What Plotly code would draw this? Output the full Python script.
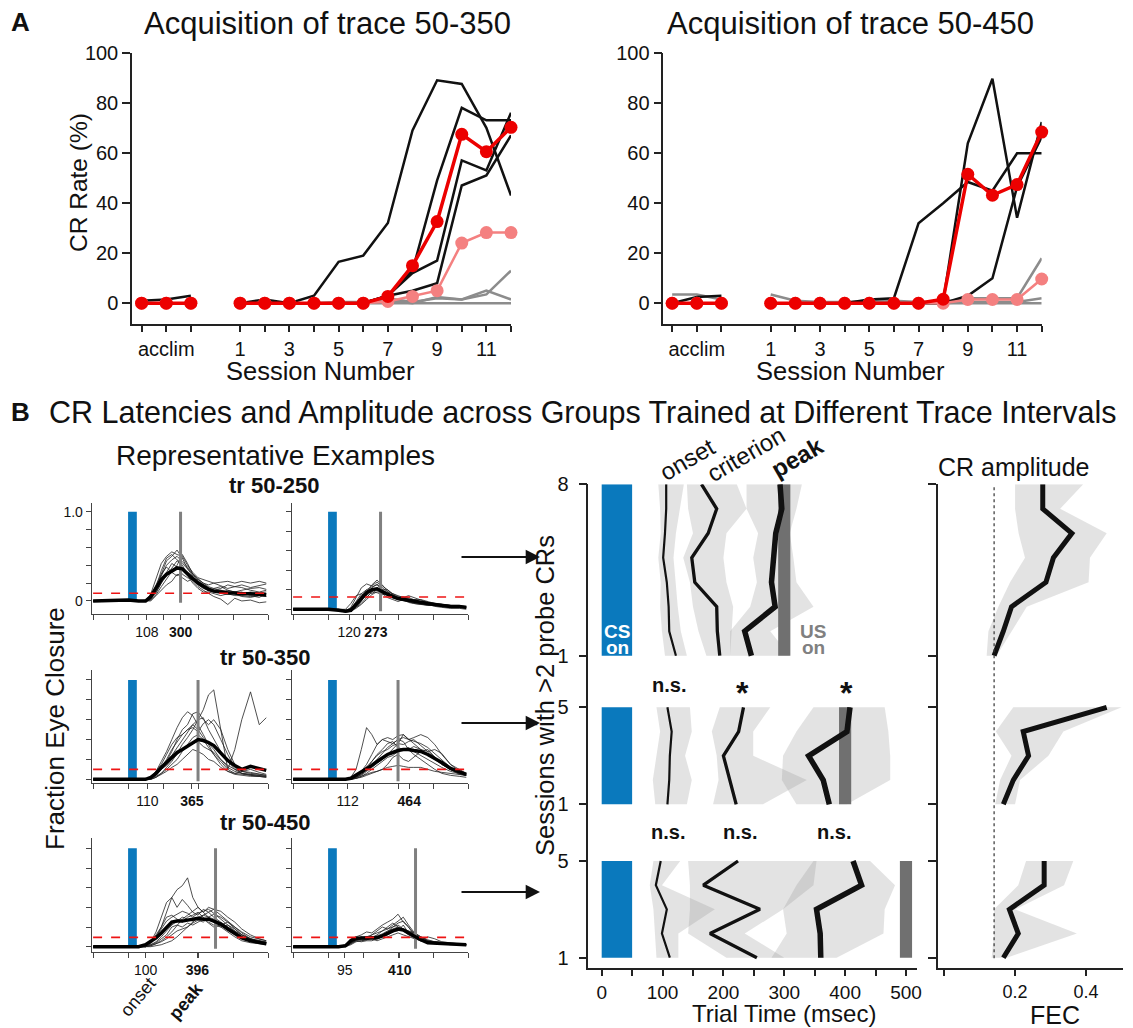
import plotly.graph_objects as go

# ---------------- page geometry helpers (page body margin removed by post_script) ----------------
OFF = 0
W, H = 1133, 1028


def PX(x):
    return (x - OFF) / W


def PY(y):
    return 1 - (y - OFF) / H


FONT = "Liberation Sans, Arial, Helvetica, sans-serif"

# ---------------- Panel A data ----------------
acclim_x = [-3, -2, -1]
session_x = list(range(1, 13))
session_ticks = [-3, -2, -1] + session_x
session_ticktext = ["", "acclim", "", "1", "", "3", "", "5", "", "7", "", "9", "", "11", ""]

# trace 50-350
a350_gray_acclim = [[0, 0, 0], [0, 0, 0], [0, 0, 0]]
a350_gray = [
    [0, 0, 0, 0, 0.5, 0.5, 2, 0.5, 2, 1.5, 3.5, 13],
    [0, 0, 0, 0, 0, 0.5, 1, 0, 2.5, 1.5, 5, 1.5],
    [0, 0, 0, 0, 0, 0, 0, 0, 0, 0, 0, 0],
]
a350_black_acclim = [[1, 1.5, 3], [0, 0, 0], [0, 0, 0], [0, 0, 0]]
a350_black = [
    [0, 1.5, 0, 3, 16.5, 19, 32, 69, 89, 87.5, 70, 43],
    [0, 0, 0, 0, 0, 0, 3, 13, 49, 78, 73, 73],
    [0, 0, 0, 0, 0, 0, 3, 12, 17, 57, 53, 76],
    [0, 0, 0, 0, 0, 0, 3, 5, 8, 47, 51, 67],
]
a350_pink_acclim = [0, 0, 0]
a350_pink = [0, 0, 0, 0, 0, 0, 0.7, 2.7, 5, 24, 28.2, 28.2]
a350_red_acclim = [0, 0, 0]
a350_red = [0, 0, 0, 0, 0, 0, 2.7, 15, 32.6, 67.4, 60.5, 70.2]

# trace 50-450
a450_gray_acclim = [[3.5, 3.5, 1.5], [0, 0, 0], [0, 0, 0]]
a450_gray = [
    [3.5, 1, 0.5, 0.5, 1, 1, 0.5, 0.5, 2, 2, 2, 18],
    [0, 0, 0, 0, 0, 0, 0, 0, 0.5, 0.5, 0.5, 2],
    [0, 0, 0, 0, 0, 0, 0, 0, 0, 0, 0, 0],
]
a450_black_acclim = [[0, 2.5, 3], [0, 0, 0], [0, 0, 0]]
a450_black = [
    [0, 0, 0, 0, 1.5, 2, 32, 40, 48.5, 45, 60, 60],
    [0, 0, 0, 0, 0, 0, 0, 0.7, 64, 89.8, 34.2, 72.5],
    [0, 0, 0, 0, 0, 0, 0, 0, 3, 10, 46.5, 66.5],
]
a450_pink_acclim = [0, 0, 0]
a450_pink = [0, 0, 0, 0, 0, 0, 0, 0, 1.5, 1.5, 1.5, 9.7]
a450_red_acclim = [0, 0, 0]
a450_red = [0, 0, 0, 0, 0, 0, 0, 1.6, 51.6, 43.2, 47.5, 68.5]

# ---------------- Panel B representative examples data ----------------
trace_t = [-200, 0, 60, 100, 130, 160, 190, 220, 250, 280, 310, 340, 370, 400, 430, 460, 490, 530, 570, 610, 650, 700, 750, 790]
cs_window = [0, 50]
fec_ticks = [0, 0.2, 0.4, 0.6, 0.8, 1.0]

ex250a_mean = [0, 0.01, 0, 0, 0.05, 0.15, 0.24, 0.3, 0.34, 0.37, 0.36, 0.3, 0.25, 0.2, 0.16, 0.13, 0.11, 0.1, 0.09, 0.09, 0.08, 0.08, 0.07, 0.07]
ex250a_trials = [
    [0, 0, 0, 0, 0.08, 0.25, 0.42, 0.5, 0.55, 0.52, 0.5, 0.4, 0.32, 0.26, 0.24, 0.22, 0.2, 0.21, 0.22, 0.2, 0.22, 0.2, 0.22, 0.2],
    [0, 0, 0, 0, 0.02, 0.12, 0.3, 0.45, 0.5, 0.57, 0.48, 0.36, 0.28, 0.2, 0.15, 0.12, 0.1, 0.12, 0.1, 0.08, 0.05, 0.04, 0.06, 0.05],
    [0, 0, 0, 0, 0.03, 0.1, 0.2, 0.28, 0.36, 0.45, 0.4, 0.3, 0.22, 0.16, 0.12, 0.08, 0.05, 0.02, -0.04, 0.03, 0, 0.01, -0.02, -0.01],
    [0, 0, 0, 0.01, 0.06, 0.18, 0.3, 0.38, 0.32, 0.28, 0.34, 0.28, 0.2, 0.14, 0.1, 0.1, 0.08, 0.06, 0.08, 0.06, 0.06, 0.05, 0.06, 0.05],
    [0, 0, 0, 0, 0, 0.06, 0.12, 0.18, 0.22, 0.3, 0.26, 0.22, 0.25, 0.24, 0.2, 0.16, 0.14, 0.16, 0.12, 0.1, 0.12, 0.14, 0.15, 0.13],
    [0, 0, 0, 0, 0.04, 0.16, 0.34, 0.48, 0.52, 0.46, 0.42, 0.36, 0.3, 0.22, 0.18, 0.15, 0.12, 0.14, 0.18, 0.16, 0.15, 0.12, 0.1, 0.12],
    [0, 0, 0, 0, 0.03, 0.14, 0.28, 0.4, 0.46, 0.5, 0.44, 0.38, 0.3, 0.25, 0.2, 0.18, 0.2, 0.17, 0.14, 0.16, 0.18, 0.15, 0.17, 0.19],
    [0, 0, 0, 0, 0.01, 0.07, 0.16, 0.25, 0.33, 0.4, 0.52, 0.42, 0.3, 0.24, 0.18, 0.14, 0.12, 0.1, 0.12, 0.1, 0.08, 0.1, 0.09, 0.1],
    [0, 0, 0, 0, 0.02, 0.09, 0.2, 0.32, 0.42, 0.38, 0.3, 0.26, 0.24, 0.18, 0.14, 0.12, 0.14, 0.12, 0.1, 0.08, 0.1, 0.06, 0.04, 0.08],
]
ex250b_mean = [0, 0, -0.01, -0.02, -0.01, 0.05, 0.12, 0.17, 0.2, 0.21, 0.18, 0.15, 0.13, 0.11, 0.1, 0.09, 0.08, 0.07, 0.06, 0.05, 0.04, 0.03, 0.03, 0.02]
ex250b_trials = [
    [0, 0, -0.01, -0.02, 0.02, 0.12, 0.22, 0.26, 0.24, 0.28, 0.22, 0.18, 0.16, 0.14, 0.12, 0.12, 0.1, 0.1, 0.08, 0.06, 0.05, 0.04, 0.03, 0.02],
    [0, 0, -0.01, -0.03, -0.02, 0.02, 0.08, 0.18, 0.25, 0.3, 0.24, 0.2, 0.16, 0.13, 0.12, 0.14, 0.12, 0.09, 0.07, 0.05, 0.04, 0.04, 0.02, 0.01],
    [0, 0, 0, -0.02, 0, 0.06, 0.14, 0.2, 0.16, 0.2, 0.16, 0.12, 0.1, 0.08, 0.1, 0.07, 0.06, 0.05, 0.05, 0.04, 0.03, 0.02, 0.02, 0.03],
    [0, 0, -0.01, -0.02, -0.01, 0.03, 0.1, 0.14, 0.22, 0.26, 0.2, 0.14, 0.12, 0.12, 0.1, 0.08, 0.08, 0.06, 0.05, 0.03, 0.02, 0.01, 0.01, 0],
    [0, 0, 0, 0, 0.06, 0.14, 0.16, 0.12, 0.18, 0.17, 0.15, 0.16, 0.14, 0.11, 0.09, 0.08, 0.07, 0.06, 0.04, 0.04, 0.03, 0.03, 0.02, 0.02],
    [0, 0, -0.01, -0.02, -0.01, 0.02, 0.06, 0.12, 0.18, 0.22, 0.2, 0.2, 0.15, 0.12, 0.1, 0.1, 0.09, 0.07, 0.06, 0.05, 0.05, 0.04, 0.03, 0.02],
    [0, 0, -0.01, -0.02, 0, 0.08, 0.16, 0.2, 0.23, 0.25, 0.2, 0.17, 0.14, 0.12, 0.13, 0.1, 0.1, 0.08, 0.07, 0.06, 0.05, 0.04, 0.04, 0.03],
    [0, 0, 0, -0.01, 0.01, 0.04, 0.1, 0.15, 0.19, 0.2, 0.25, 0.18, 0.12, 0.1, 0.09, 0.08, 0.06, 0.05, 0.04, 0.04, 0.03, 0.02, 0.02, 0.01],
    [0, 0, -0.01, -0.02, -0.02, 0.01, 0.05, 0.1, 0.15, 0.18, 0.17, 0.14, 0.15, 0.11, 0.09, 0.11, 0.08, 0.06, 0.05, 0.05, 0.04, 0.03, 0.02, 0.02],
]
ex350a_mean = [0, 0, 0, 0, 0.02, 0.06, 0.12, 0.17, 0.22, 0.27, 0.3, 0.33, 0.37, 0.4, 0.39, 0.37, 0.34, 0.27, 0.19, 0.14, 0.1, 0.13, 0.11, 0.09]
ex350a_trials = [
    [0, 0, 0, 0, 0.02, 0.08, 0.15, 0.25, 0.35, 0.42, 0.45, 0.5, 0.55, 0.6, 0.7, 0.85, 0.9, 0.5, 0.1, 0.3, 0.6, 0.88, 0.55, 0.62],
    [0, 0, 0, 0, 0.02, 0.08, 0.18, 0.28, 0.4, 0.52, 0.62, 0.68, 0.64, 0.55, 0.45, 0.35, 0.25, 0.15, 0.08, 0.05, 0.04, 0.03, 0.03, 0.02],
    [0, 0, 0, 0, 0.01, 0.05, 0.1, 0.18, 0.28, 0.4, 0.5, 0.55, 0.66, 0.68, 0.6, 0.55, 0.6, 0.5, 0.3, 0.15, 0.08, 0.06, 0.05, 0.04],
    [0, 0, 0, 0, 0, 0.02, 0.05, 0.08, 0.12, 0.15, 0.2, 0.25, 0.3, 0.28, 0.25, 0.2, 0.18, 0.12, 0.08, 0.06, 0.05, 0.04, 0.03, 0.03],
    [0, 0, 0, 0, 0.02, 0.06, 0.12, 0.2, 0.3, 0.38, 0.45, 0.5, 0.52, 0.48, 0.56, 0.6, 0.55, 0.4, 0.25, 0.12, 0.06, 0.04, 0.03, 0.02],
    [0, 0, 0, 0, 0, 0.03, 0.06, 0.1, 0.15, 0.2, 0.28, 0.35, 0.42, 0.45, 0.4, 0.32, 0.25, 0.18, 0.1, 0.06, 0.08, 0.1, 0.07, 0.05],
    [0, 0, 0, 0, 0.01, 0.04, 0.1, 0.16, 0.24, 0.32, 0.4, 0.48, 0.55, 0.5, 0.42, 0.36, 0.3, 0.2, 0.12, 0.08, 0.06, 0.05, 0.04, 0.03],
    [0, 0, 0, 0, 0.02, 0.05, 0.1, 0.14, 0.2, 0.25, 0.3, 0.34, 0.36, 0.38, 0.33, 0.3, 0.27, 0.2, 0.14, 0.1, 0.08, 0.07, 0.05, 0.04],
    [0, 0, 0, 0, 0, 0.02, 0.06, 0.12, 0.18, 0.26, 0.35, 0.42, 0.5, 0.6, 0.62, 0.5, 0.4, 0.28, 0.18, 0.1, 0.06, 0.05, 0.04, 0.03],
]
ex350b_mean = [0, 0, 0, 0, 0.01, 0.04, 0.07, 0.1, 0.14, 0.18, 0.22, 0.25, 0.27, 0.29, 0.3, 0.3, 0.29, 0.28, 0.25, 0.21, 0.17, 0.11, 0.08, 0.05]
ex350b_trials = [
    [0, 0, 0, 0, 0.02, 0.1, 0.3, 0.52, 0.45, 0.35, 0.4, 0.38, 0.36, 0.4, 0.38, 0.3, 0.25, 0.2, 0.15, 0.1, 0.06, 0.04, 0.03, 0.02],
    [0, 0, 0, 0, 0.01, 0.03, 0.08, 0.15, 0.25, 0.35, 0.4, 0.42, 0.4, 0.44, 0.45, 0.4, 0.42, 0.45, 0.42, 0.35, 0.25, 0.15, 0.08, 0.05],
    [0, 0, 0, 0, 0, 0.02, 0.04, 0.08, 0.12, 0.16, 0.2, 0.25, 0.3, 0.36, 0.45, 0.4, 0.36, 0.3, 0.28, 0.3, 0.26, 0.15, 0.1, 0.06],
    [0, 0, 0, 0, 0, 0.01, 0.03, 0.05, 0.07, 0.08, 0.1, 0.12, 0.13, 0.14, 0.13, 0.12, 0.12, 0.12, 0.1, 0.08, 0.07, 0.06, 0.05, 0.04],
    [0, 0, 0, 0, 0.01, 0.02, 0.05, 0.1, 0.18, 0.25, 0.3, 0.36, 0.38, 0.32, 0.3, 0.3, 0.33, 0.3, 0.24, 0.2, 0.15, 0.1, 0.05, 0.04],
    [0, 0, 0, 0, 0, 0.01, 0.02, 0.04, 0.06, 0.08, 0.1, 0.15, 0.22, 0.25, 0.2, 0.18, 0.22, 0.28, 0.3, 0.22, 0.15, 0.1, 0.06, 0.04],
    [0, 0, 0, 0, 0.01, 0.02, 0.05, 0.09, 0.14, 0.2, 0.26, 0.32, 0.36, 0.4, 0.42, 0.4, 0.38, 0.36, 0.32, 0.26, 0.2, 0.12, 0.07, 0.05],
    [0, 0, 0, 0, 0, 0.01, 0.03, 0.06, 0.1, 0.14, 0.18, 0.22, 0.24, 0.28, 0.3, 0.32, 0.28, 0.24, 0.2, 0.16, 0.12, 0.08, 0.06, 0.04],
    [0, 0, 0, 0, 0.01, 0.03, 0.07, 0.12, 0.18, 0.24, 0.28, 0.3, 0.34, 0.36, 0.35, 0.38, 0.4, 0.34, 0.28, 0.22, 0.16, 0.1, 0.07, 0.05],
]
ex450a_mean = [0, 0, 0, 0.02, 0.05, 0.09, 0.14, 0.19, 0.25, 0.26, 0.26, 0.27, 0.28, 0.29, 0.28, 0.28, 0.26, 0.23, 0.18, 0.14, 0.09, 0.06, 0.04, 0.03]
ex450a_trials = [
    [0, 0, 0, 0.01, 0.05, 0.15, 0.3, 0.45, 0.5, 0.58, 0.62, 0.7, 0.5, 0.4, 0.35, 0.3, 0.25, 0.2, 0.15, 0.1, 0.06, 0.04, 0.03, 0.02],
    [0, 0, 0, 0, 0.03, 0.1, 0.2, 0.35, 0.5, 0.4, 0.48, 0.42, 0.35, 0.32, 0.38, 0.35, 0.3, 0.25, 0.2, 0.15, 0.1, 0.06, 0.04, 0.03],
    [0, 0, 0, 0, 0.01, 0.03, 0.06, 0.1, 0.15, 0.22, 0.28, 0.32, 0.36, 0.4, 0.35, 0.4, 0.38, 0.32, 0.26, 0.2, 0.14, 0.08, 0.06, 0.05],
    [0, 0, 0, 0, 0, 0.01, 0.02, 0.04, 0.06, 0.1, 0.15, 0.2, 0.25, 0.3, 0.32, 0.35, 0.38, 0.36, 0.3, 0.25, 0.18, 0.12, 0.08, 0.06],
    [0, 0, 0, 0.02, 0.06, 0.12, 0.2, 0.3, 0.32, 0.28, 0.25, 0.3, 0.32, 0.35, 0.3, 0.25, 0.22, 0.2, 0.22, 0.18, 0.12, 0.08, 0.06, 0.04],
    [0, 0, 0, 0, 0.02, 0.04, 0.08, 0.12, 0.2, 0.22, 0.2, 0.24, 0.22, 0.25, 0.28, 0.24, 0.2, 0.22, 0.25, 0.2, 0.15, 0.1, 0.08, 0.06],
    [0, 0, 0, 0.01, 0.04, 0.1, 0.18, 0.26, 0.3, 0.33, 0.36, 0.34, 0.3, 0.34, 0.36, 0.38, 0.34, 0.28, 0.22, 0.16, 0.1, 0.07, 0.05, 0.04],
    [0, 0, 0, 0, 0.02, 0.05, 0.1, 0.16, 0.22, 0.26, 0.3, 0.28, 0.26, 0.28, 0.32, 0.3, 0.28, 0.24, 0.2, 0.16, 0.12, 0.08, 0.05, 0.04],
    [0, 0, 0, 0, 0.01, 0.03, 0.05, 0.08, 0.12, 0.16, 0.18, 0.2, 0.24, 0.27, 0.25, 0.3, 0.33, 0.3, 0.25, 0.18, 0.12, 0.08, 0.05, 0.04],
]
ex450b_mean = [0, 0, 0, 0.01, 0.06, 0.085, 0.085, 0.085, 0.09, 0.09, 0.11, 0.14, 0.16, 0.18, 0.17, 0.14, 0.11, 0.07, 0.04, 0.035, 0.035, 0.03, 0.025, 0.02]
ex450b_trials = [
    [0, 0, 0, 0.02, 0.08, 0.1, 0.12, 0.15, 0.14, 0.18, 0.22, 0.25, 0.28, 0.33, 0.25, 0.2, 0.12, 0.08, 0.05, 0.04, 0.03, 0.03, 0.02, 0.02],
    [0, 0, 0, 0, 0.04, 0.07, 0.1, 0.08, 0.12, 0.16, 0.2, 0.18, 0.22, 0.26, 0.3, 0.22, 0.15, 0.1, 0.06, 0.05, 0.04, 0.03, 0.03, 0.02],
    [0, 0, 0, 0, 0.02, 0.05, 0.06, 0.07, 0.08, 0.1, 0.12, 0.15, 0.2, 0.22, 0.18, 0.16, 0.14, 0.1, 0.06, 0.04, 0.03, 0.03, 0.02, 0.02],
    [0, 0, 0, 0.01, 0.05, 0.08, 0.1, 0.1, 0.08, 0.06, 0.08, 0.1, 0.12, 0.14, 0.12, 0.1, 0.08, 0.06, 0.1, 0.08, 0.05, 0.04, 0.03, 0.02],
    [0, 0, 0, 0, 0.03, 0.06, 0.06, 0.07, 0.09, 0.12, 0.16, 0.2, 0.24, 0.2, 0.16, 0.12, 0.09, 0.06, 0.05, 0.04, 0.04, 0.03, 0.02, 0.02],
    [0, 0, 0, 0.01, 0.04, 0.06, 0.05, 0.06, 0.06, 0.08, 0.1, 0.12, 0.15, 0.16, 0.22, 0.14, 0.1, 0.06, 0.04, 0.03, 0.03, 0.02, 0.02, 0.01],
    [0, 0, 0, 0.01, 0.05, 0.08, 0.09, 0.1, 0.12, 0.14, 0.16, 0.18, 0.2, 0.24, 0.26, 0.2, 0.14, 0.08, 0.05, 0.04, 0.03, 0.03, 0.02, 0.02],
    [0, 0, 0, 0, 0.03, 0.06, 0.08, 0.07, 0.1, 0.11, 0.13, 0.16, 0.18, 0.2, 0.18, 0.15, 0.12, 0.09, 0.06, 0.05, 0.04, 0.03, 0.02, 0.02],
    [0, 0, 0, 0.01, 0.04, 0.07, 0.08, 0.09, 0.1, 0.1, 0.12, 0.13, 0.15, 0.18, 0.17, 0.16, 0.13, 0.1, 0.07, 0.05, 0.04, 0.03, 0.03, 0.02],
]
example_onsets = [108, 120, 110, 112, 100, 95]
example_peaks = [300, 273, 365, 464, 396, 410]
example_us = [300, 300, 400, 400, 500, 500]
example_thresholds = [0.086, 0.126, 0.10, 0.10, 0.095, 0.095]
example_means = [ex250a_mean, ex250b_mean, ex350a_mean, ex350b_mean, ex450a_mean, ex450b_mean]
example_trials = [ex250a_trials, ex250b_trials, ex350a_trials, ex350b_trials, ex450a_trials, ex450b_trials]

# ---------------- Panel B latencies ----------------
group_us = [300, 400, 500]
g1_sessions = [8, 7, 6, 5, 4, 3, 2, 1]
g1_onset = [106, 106, 104, 101, 107, 110, 111, 122]
g1_onset_lo = [93, 96, 97, 93, 97, 96, 99, 104]
g1_onset_hi = [135, 128, 122, 118, 122, 125, 130, 140]
g1_crit = [164, 189, 175, 148, 153, 189, 190, 194]
g1_crit_lo = [140, 142, 150, 134, 145, 150, 159, 172]
g1_crit_hi = [222, 238, 205, 200, 205, 216, 213, 211]
g1_peak = [293, 296, 286, 282, 279, 285, 235, 246]
g1_peak_lo = [238, 238, 257, 249, 255, 244, 211, 211]
g1_peak_hi = [329, 320, 309, 315, 320, 348, 277, 309]

g2_sessions = [5, 4, 3, 2, 1]
g2_onset = [108, 115, 112, 111, 108]
g2_onset_lo = [90, 96, 90, 84, 88]
g2_onset_hi = [145, 148, 137, 148, 140]
g2_crit = [233, 225, 200, 210, 221]
g2_crit_lo = [194, 181, 189, 192, 183]
g2_crit_hi = [277, 249, 249, 337, 265]
g2_peak = [408, 403, 340, 364, 374]
g2_peak_lo = [348, 320, 298, 296, 320]
g2_peak_hi = [465, 471, 474, 474, 403]

g3_sessions = [5, 4, 3, 2, 1]
g3_onset = [97, 89, 107, 99, 112]
g3_onset_lo = [85, 79, 85, 88, 90]
g3_onset_hi = [129, 99, 186, 126, 126]
g3_crit = [224, 167, 260, 178, 255]
g3_crit_lo = [142, 145, 145, 142, 205]
g3_crit_hi = [353, 348, 298, 235, 300]
g3_peak = [413, 427, 353, 359, 360]
g3_peak_lo = [348, 320, 298, 304, 279]
g3_peak_hi = [441, 482, 465, 463, 386]

# ---------------- Panel B amplitudes ----------------
fec_threshold = 0.141
g1_amp = [0.278, 0.278, 0.36, 0.308, 0.287, 0.19, 0.167, 0.141]
g1_amp_lo = [0.2, 0.2, 0.21, 0.228, 0.186, 0.153, 0.125, 0.12]
g1_amp_hi = [0.392, 0.327, 0.458, 0.411, 0.407, 0.233, 0.19, 0.148]
g2_amp = [0.458, 0.223, 0.238, 0.195, 0.167]
g2_amp_lo = [0.195, 0.146, 0.19, 0.158, 0.144]
g2_amp_hi = [0.5, 0.336, 0.294, 0.214, 0.2]
g3_amp = [0.282, 0.282, 0.184, 0.209, 0.167]
g3_amp_lo = [0.231, 0.209, 0.141, 0.141, 0.134]
g3_amp_hi = [0.364, 0.338, 0.2, 0.374, 0.177]

# =====================================================================
fig = go.Figure()
BLACK = "#111111"
GRAY = "rgb(140,140,140)"
RED = "rgb(236,0,0)"
PINK = "rgb(244,128,128)"
BLUE = "#0a79bd"
USGRAY = "rgb(112,112,112)"
BAND = "rgba(150,150,150,0.27)"


def joined(acc, ses):
    return acclim_x + [None] + session_x, list(acc) + [None] + list(ses)


def add_A(ax, gray_acc, gray, black_acc, black, pink_acc, pink, red_acc, red):
    xa, ya = "x" + ax, "y" + ax
    for acc, ses in zip(gray_acc, gray):
        x, y = joined(acc, ses)
        fig.add_trace(go.Scatter(x=x, y=y, mode="lines", line=dict(color=GRAY, width=2.5),
                                 xaxis=xa, yaxis=ya, hoverinfo="skip"))
    for acc, ses in zip(black_acc, black):
        x, y = joined(acc, ses)
        fig.add_trace(go.Scatter(x=x, y=y, mode="lines", line=dict(color=BLACK, width=2.5),
                                 xaxis=xa, yaxis=ya, hoverinfo="skip"))
    x, y = joined(pink_acc, pink)
    fig.add_trace(go.Scatter(x=x, y=y, mode="lines+markers", line=dict(color=PINK, width=2.5),
                             marker=dict(color=PINK, size=13), cliponaxis=False,
                             xaxis=xa, yaxis=ya))
    x, y = joined(red_acc, red)
    fig.add_trace(go.Scatter(x=x, y=y, mode="lines+markers", line=dict(color=RED, width=3.5),
                             marker=dict(color=RED, size=13), cliponaxis=False,
                             xaxis=xa, yaxis=ya))


add_A("", a350_gray_acclim, a350_gray, a350_black_acclim, a350_black,
      a350_pink_acclim, a350_pink, a350_red_acclim, a350_red)
add_A("2", a450_gray_acclim, a450_gray, a450_black_acclim, a450_black,
      a450_pink_acclim, a450_pink, a450_red_acclim, a450_red)

# representative example panels: axes 3..8
for i in range(6):
    n = str(3 + i)
    xa, ya = "x" + n, "y" + n
    fig.add_trace(go.Scatter(x=[cs_window[0], cs_window[1], cs_window[1], cs_window[0], cs_window[0]],
                             y=[0, 0, 1, 1, 0], fill="toself", fillcolor=BLUE, mode="lines",
                             line=dict(width=0), xaxis=xa, yaxis=ya, hoverinfo="skip"))
    for tr in example_trials[i]:
        fig.add_trace(go.Scatter(x=trace_t, y=tr, mode="lines", line=dict(color="#222", width=0.8),
                                 xaxis=xa, yaxis=ya, hoverinfo="skip"))
    fig.add_trace(go.Scatter(x=[example_us[i], example_us[i]], y=[-0.02, 1.0], mode="lines",
                             line=dict(color="rgb(128,128,128)", width=3), xaxis=xa, yaxis=ya))
    fig.add_trace(go.Scatter(x=trace_t, y=example_means[i], mode="lines", line=dict(color="#000", width=3.5),
                             xaxis=xa, yaxis=ya))
    fig.add_trace(go.Scatter(x=[trace_t[0], trace_t[-1] + 10], y=[example_thresholds[i]] * 2, mode="lines",
                             line=dict(color="rgb(238,20,20)", width=1.6, dash="dash"), xaxis=xa, yaxis=ya))

# latency panel: axes 9,10,11 ; amplitude panel: axes 12,13,14
groups = [
    dict(s=g1_sessions, on=g1_onset, onlo=g1_onset_lo, onhi=g1_onset_hi, cr=g1_crit, crlo=g1_crit_lo,
         crhi=g1_crit_hi, pk=g1_peak, pklo=g1_peak_lo, pkhi=g1_peak_hi, amp=g1_amp, alo=g1_amp_lo, ahi=g1_amp_hi),
    dict(s=g2_sessions, on=g2_onset, onlo=g2_onset_lo, onhi=g2_onset_hi, cr=g2_crit, crlo=g2_crit_lo,
         crhi=g2_crit_hi, pk=g2_peak, pklo=g2_peak_lo, pkhi=g2_peak_hi, amp=g2_amp, alo=g2_amp_lo, ahi=g2_amp_hi),
    dict(s=g3_sessions, on=g3_onset, onlo=g3_onset_lo, onhi=g3_onset_hi, cr=g3_crit, crlo=g3_crit_lo,
         crhi=g3_crit_hi, pk=g3_peak, pklo=g3_peak_lo, pkhi=g3_peak_hi, amp=g3_amp, alo=g3_amp_lo, ahi=g3_amp_hi),
]


def band(lo, hi, s, xa, ya):
    fig.add_trace(go.Scatter(x=list(lo) + list(hi)[::-1], y=list(s) + list(s)[::-1], fill="toself",
                             fillcolor=BAND, mode="lines", line=dict(width=0), xaxis=xa, yaxis=ya,
                             hoverinfo="skip"))


for gi, g in enumerate(groups):
    n = str(9 + gi)
    xa, ya = "x" + n, "y" + n
    s = g["s"]
    smax, smin = max(s), min(s)
    band(g["onlo"], g["onhi"], s, xa, ya)
    band(g["crlo"], g["crhi"], s, xa, ya)
    band(g["pklo"], g["pkhi"], s, xa, ya)
    fig.add_trace(go.Scatter(x=[cs_window[0], cs_window[1], cs_window[1], cs_window[0], cs_window[0]],
                             y=[smin, smin, smax, smax, smin], fill="toself", fillcolor=BLUE, mode="lines",
                             line=dict(width=0), xaxis=xa, yaxis=ya, hoverinfo="skip"))
    u = group_us[gi]
    fig.add_trace(go.Scatter(x=[u - 10, u + 10, u + 10, u - 10, u - 10],
                             y=[smin, smin, smax, smax, smin], fill="toself", fillcolor=USGRAY, mode="lines",
                             line=dict(width=0), xaxis=xa, yaxis=ya, hoverinfo="skip"))
    fig.add_trace(go.Scatter(x=g["on"], y=s, mode="lines", line=dict(color=BLACK, width=2.2), xaxis=xa, yaxis=ya))
    fig.add_trace(go.Scatter(x=g["cr"], y=s, mode="lines", line=dict(color=BLACK, width=3.3), xaxis=xa, yaxis=ya))
    fig.add_trace(go.Scatter(x=g["pk"], y=s, mode="lines", line=dict(color=BLACK, width=5.5), xaxis=xa, yaxis=ya))

    n2 = str(12 + gi)
    xa2, ya2 = "x" + n2, "y" + n2
    band(g["alo"], g["ahi"], s, xa2, ya2)
    fig.add_trace(go.Scatter(x=g["amp"], y=s, mode="lines", line=dict(color=BLACK, width=5), xaxis=xa2, yaxis=ya2))

# ---------------- axes ----------------
AXC = "#222222"


def base_axis(**kw):
    d = dict(showgrid=False, zeroline=False, showline=True, linecolor=AXC, linewidth=1.5,
             ticks="outside", tickcolor=AXC, tickwidth=1.5, fixedrange=True, automargin=False,
             tickfont=dict(family=FONT, size=20, color="#111"))
    d.update(kw)
    return d


layout = dict(
    width=W, height=H, margin=dict(l=0, r=0, t=0, b=0, pad=0, autoexpand=False), showlegend=False,
    plot_bgcolor="white", paper_bgcolor="white", font=dict(family=FONT, color="#111"),
)

# Panel A
layout["xaxis"] = base_axis(domain=[PX(132), PX(511)], range=[-3.39, 12], tickvals=session_ticks,
                            ticktext=session_ticktext, ticklen=6, anchor="y")
layout["yaxis"] = base_axis(domain=[PY(324), PY(52.7)], range=[-8.3, 100], tickvals=[0, 20, 40, 60, 80, 100],
                            ticklen=8, anchor="x")
layout["xaxis2"] = base_axis(domain=[PX(663.3), PX(1041.7)], range=[-3.36, 12], tickvals=session_ticks,
                             ticktext=session_ticktext, ticklen=6, anchor="y2")
layout["yaxis2"] = base_axis(domain=[PY(324), PY(53.3)], range=[-8.3, 100], tickvals=[0, 20, 40, 60, 80, 100],
                             ticklen=8, anchor="x2")

# representative examples
cols = [(91.7, 268), (291.7, 468)]
rows = [(503, 614), (670, 783.3), (838.3, 951.7)]
yranges = [[-0.146, 1.097], [-0.048, 1.089], [-0.04, 1.10], [-0.04, 1.10], [-0.051, 1.102], [-0.051, 1.102]]
for i in range(6):
    n = str(3 + i)
    c = cols[i % 2]
    r = rows[i // 2]
    on, pk = example_onsets[i], example_peaks[i]
    tv = [-200, 0, on, 200, pk, 400, 600, 800]
    tt = ["", "", str(on), "", "<b>%d</b>" % pk, "", "", ""]
    layout["xaxis" + n] = base_axis(domain=[PX(c[0]), PX(c[1])], range=[-208, 800], tickvals=tv, ticktext=tt,
                                   ticklen=5, linewidth=1, tickwidth=1, linecolor="#444", tickcolor="#444",
                                   tickfont=dict(family=FONT, size=14, color="#111"), anchor="y" + n)
    ylab = ["0", "", "", "", "", "1.0"] if i == 0 else [""] * 6
    layout["yaxis" + n] = base_axis(domain=[PY(r[1]), PY(r[0])], range=yranges[i], tickvals=fec_ticks,
                                   ticktext=ylab, ticklen=5, linewidth=1, tickwidth=1, linecolor="#444",
                                   tickcolor="#444", tickfont=dict(family=FONT, size=14, color="#111"),
                                   anchor="x" + n)

# latency / amplitude stacked axes
gdom = [(681, 484.3), (832.7, 681), (968.3, 832.7)]
granges = [[-0.033, 8], [-0.171, 6.085], [0.562, 6.17]]
gticks = [[1, 8], [1, 5], [1, 5]]
for gi in range(3):
    n = str(9 + gi)
    n2 = str(12 + gi)
    bottom = gi == 2
    layout["xaxis" + n] = base_axis(domain=[PX(588.3), PX(916.7)], range=[-22, 517.6], anchor="y" + n,
                                   visible=bottom, tickvals=list(range(0, 501, 50)),
                                   ticktext=[str(v) if v % 100 == 0 else "" for v in range(0, 501, 50)],
                                   ticklen=6, tickfont=dict(family=FONT, size=19, color="#111"))
    layout["yaxis" + n] = base_axis(domain=[PY(gdom[gi][0]), PY(gdom[gi][1])], range=granges[gi],
                                   tickvals=gticks[gi], ticklen=8, anchor="x" + n, ticklabelstandoff=6,
                                   tickfont=dict(family=FONT, size=20, color="#111"))
    layout["xaxis" + n2] = base_axis(domain=[PX(938), PX(1123)], range=[-0.017, 0.504], anchor="y" + n2,
                                    visible=bottom, tickvals=[0, 0.2, 0.4], ticktext=["", "0.2", "0.4"],
                                    ticklen=6, tickfont=dict(family=FONT, size=18, color="#111"))
    layout["yaxis" + n2] = base_axis(domain=[PY(gdom[gi][0]), PY(gdom[gi][1])], range=granges[gi],
                                    tickvals=gticks[gi], ticklen=8, showticklabels=False, anchor="x" + n2)

fig.update_layout(**layout)

# threshold (dotted) line on amplitude panel
fig.add_shape(type="line", xref="x12", yref="paper", x0=fec_threshold, x1=fec_threshold,
              y0=PY(958.3), y1=PY(484.3), line=dict(color="#333", width=1.2, dash="dot"))

# ---------------- annotations ----------------
ann = []


def T(text, x, y, size, bold=False, angle=0, color="#111", xanchor="center"):
    ann.append(dict(text=("<b>%s</b>" % text) if bold else text, x=PX(x), y=PY(y), xref="paper", yref="paper",
                    showarrow=False, textangle=angle, xanchor=xanchor, yanchor="middle",
                    font=dict(family=FONT, size=size, color=color)))


T("A", 20, 22, 26, bold=True)
T("B", 20, 412, 26, bold=True)
T("Acquisition of trace 50-350", 327, 23, 31)
T("Acquisition of trace 50-450", 850, 23, 31)
T("CR Rate (%)", 78, 183, 24.5, angle=-90)
T("Session Number", 320, 371, 25.5)
T("Session Number", 850, 371, 25.5)
T("CR Latencies and Amplitude across Groups Trained at Different Trace Intervals", 47, 412, 30.5, xanchor="left")
T("Representative Examples", 275, 455, 28)
T("tr 50-250", 274, 485, 22, bold=True)
T("tr 50-350", 265, 657, 22, bold=True)
T("tr 50-450", 265, 822, 22, bold=True)
T("Fraction Eye Closure", 55, 729, 26, angle=-90)
T("onset", 138, 997, 18, angle=-50)
T("peak", 186, 1001, 18, bold=True, angle=-50)
T("onset", 687, 460, 24, angle=-30)
T("criterion", 745, 454, 24, angle=-30)
T("peak", 797, 458, 24, bold=True, angle=-30)
T("CS", 617, 631, 19, bold=True, color="white")
T("on", 617, 647, 19, bold=True, color="white")
T("US", 813, 631, 19, bold=True, color="rgb(128,128,128)")
T("on", 813, 647, 19, bold=True, color="rgb(128,128,128)")
T("n.s.", 669, 685, 20, bold=True)
T("*", 742, 693, 32, bold=True)
T("*", 846, 693, 32, bold=True)
T("n.s.", 668, 832, 20, bold=True)
T("n.s.", 740, 832, 20, bold=True)
T("n.s.", 834, 832, 20, bold=True)
T("Sessions with >2 probe CRs", 545, 696, 25.5, angle=-90)
T("Trial Time (msec)", 784, 1013, 24)
T("CR amplitude", 1013, 467, 25)
T("FEC", 1055, 1015, 25)

for yy in [557, 723, 892]:
    ann.append(dict(x=PX(540), y=PY(yy), xref="paper", yref="paper", text="", showarrow=True,
                    ax=-80, ay=0, arrowhead=2, arrowsize=1.3, arrowwidth=2.2, arrowcolor="#111"))

fig.update_layout(annotations=ann)
fig.write_html("out.html", config={"displayModeBar": False},
               post_script="document.body.style.margin='0px'; document.body.style.overflow='hidden';")
